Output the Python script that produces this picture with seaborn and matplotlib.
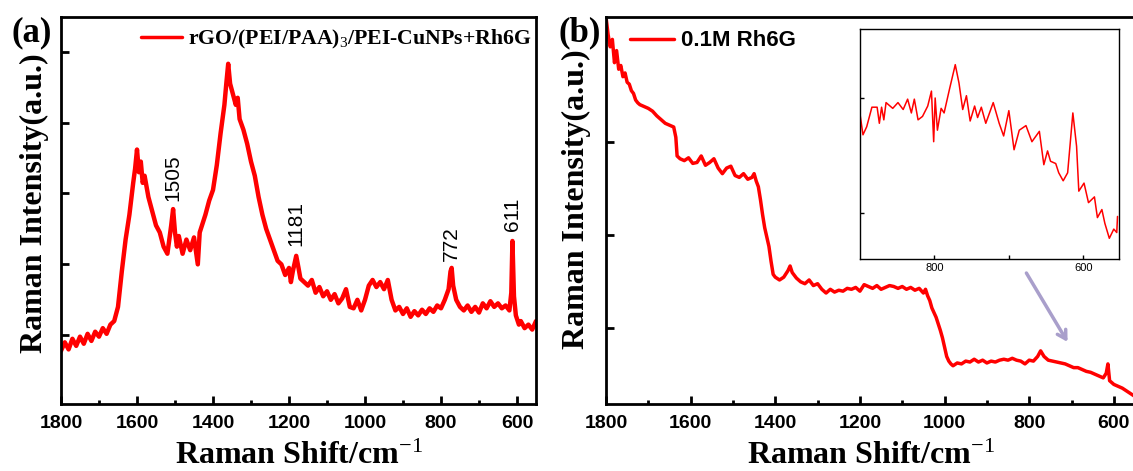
import seaborn as sns
import matplotlib.pyplot as plt
import pandas as pd

# panel (a): rGO/(PEI/PAA)3/PEI-CuNPs + Rh6G
shift_a = [1800, 1790, 1780, 1770, 1760, 1750, 1740, 1730, 1720, 1710, 1700, 1690, 1680, 1670, 1660,
           1650, 1640, 1630, 1620, 1610, 1605, 1600, 1595, 1590, 1585, 1580, 1570, 1560, 1550, 1540,
           1530, 1520, 1515, 1510, 1505, 1500, 1495, 1490, 1480, 1470, 1460, 1450, 1440, 1435, 1420,
           1410, 1400, 1390, 1380, 1370, 1365, 1360, 1355, 1350, 1340, 1335, 1330, 1320, 1310, 1300,
           1290, 1280, 1270, 1260, 1250, 1240, 1230, 1220, 1210, 1200, 1195, 1190, 1181, 1175, 1170,
           1160, 1150, 1140, 1130, 1120, 1110, 1100, 1090, 1080, 1070, 1060, 1050, 1040, 1030, 1020,
           1010, 1000, 990, 980, 970, 960, 950, 940, 930, 920, 910, 900, 890, 880, 870, 860, 850, 840,
           830, 820, 810, 800, 790, 780, 775, 772, 768, 760, 750, 740, 730, 720, 710, 700, 690, 680,
           670, 660, 650, 640, 630, 620, 615, 612, 608, 603, 595, 590, 580, 570, 560, 550]
inten_a = [0.78, 0.90, 0.80, 0.95, 0.85, 0.98, 0.88, 1.02, 0.92, 1.05, 0.98, 1.10, 1.02, 1.15, 1.20,
           1.40, 1.90, 2.35, 2.70, 3.15, 3.35, 3.62, 3.30, 3.45, 3.15, 3.25, 2.95, 2.75, 2.55, 2.45,
           2.25, 2.15, 2.35, 2.55, 2.78, 2.45, 2.25, 2.40, 2.15, 2.35, 2.20, 2.38, 2.00, 2.45, 2.70,
           2.90, 3.05, 3.40, 3.85, 4.25, 4.55, 4.83, 4.55, 4.45, 4.25, 4.35, 4.05, 3.90, 3.70, 3.45,
           3.25, 2.95, 2.70, 2.50, 2.35, 2.20, 2.05, 2.00, 1.85, 1.95, 1.75, 1.90, 2.12, 1.95, 1.80,
           1.75, 1.70, 1.78, 1.60, 1.68, 1.55, 1.62, 1.50, 1.58, 1.45, 1.52, 1.65, 1.40, 1.38, 1.50,
           1.35, 1.50, 1.70, 1.78, 1.68, 1.75, 1.65, 1.78, 1.50, 1.35, 1.40, 1.30, 1.38, 1.26, 1.34,
           1.28, 1.36, 1.30, 1.38, 1.33, 1.42, 1.38, 1.50, 1.65, 1.90, 1.95, 1.70, 1.50, 1.40, 1.35,
           1.42, 1.33, 1.40, 1.32, 1.45, 1.38, 1.48, 1.40, 1.45, 1.38, 1.42, 1.35, 1.60, 2.33, 1.55,
           1.28, 1.15, 1.20, 1.10, 1.15, 1.08, 1.20]
peaks_a = [1505, 1181, 772, 611]
peak_label_y = [2.89, 2.26, 2.05, 2.47]

# panel (b): 0.1M Rh6G
shift_b = [1800, 1795, 1790, 1785, 1780, 1775, 1770, 1765, 1760, 1755, 1750, 1745, 1740, 1735, 1730,
           1725, 1720, 1710, 1700, 1690, 1680, 1670, 1660, 1650, 1640, 1635, 1632, 1625, 1615, 1605,
           1595, 1585, 1575, 1565, 1555, 1545, 1535, 1525, 1515, 1505, 1495, 1485, 1475, 1465, 1455,
           1450, 1445, 1440, 1435, 1430, 1425, 1420, 1415, 1410, 1405, 1400, 1390, 1380, 1370, 1365,
           1360, 1350, 1340, 1330, 1320, 1310, 1300, 1290, 1280, 1270, 1260, 1250, 1240, 1230, 1220,
           1210, 1200, 1190, 1180, 1170, 1160, 1150, 1140, 1130, 1120, 1110, 1100, 1090, 1080, 1070,
           1060, 1050, 1045, 1040, 1035, 1030, 1020, 1010, 1005, 1000, 995, 990, 985, 980, 970, 960,
           950, 940, 930, 920, 910, 900, 890, 880, 870, 860, 850, 840, 830, 820, 810, 800, 790, 780,
           773, 765, 755, 745, 735, 725, 715, 705, 695, 685, 675, 665, 655, 645, 635, 625, 618, 614,
           610, 600, 590, 580, 570, 560, 550]
inten_b = [4.34, 4.15, 4.02, 4.10, 3.85, 3.98, 3.78, 3.82, 3.70, 3.74, 3.64, 3.62, 3.55, 3.52, 3.45,
           3.42, 3.40, 3.38, 3.36, 3.33, 3.28, 3.24, 3.20, 3.18, 3.16, 3.05, 2.85, 2.82, 2.80, 2.83,
           2.77, 2.78, 2.85, 2.75, 2.78, 2.82, 2.72, 2.66, 2.72, 2.74, 2.64, 2.62, 2.66, 2.60, 2.62,
           2.66, 2.58, 2.52, 2.38, 2.22, 2.08, 1.98, 1.88, 1.72, 1.58, 1.55, 1.52, 1.55, 1.62, 1.67,
           1.60, 1.54, 1.50, 1.48, 1.52, 1.46, 1.48, 1.42, 1.38, 1.42, 1.39, 1.41, 1.40, 1.43, 1.42,
           1.44, 1.40, 1.47, 1.45, 1.43, 1.46, 1.42, 1.44, 1.46, 1.45, 1.43, 1.45, 1.42, 1.44, 1.41,
           1.43, 1.38, 1.42, 1.35, 1.30, 1.22, 1.12, 0.98, 0.90, 0.80, 0.70, 0.65, 0.62, 0.60, 0.63, 0.62,
           0.65, 0.64, 0.67, 0.64, 0.66, 0.63, 0.65, 0.64, 0.66, 0.67, 0.66, 0.68, 0.66, 0.65, 0.62, 0.66,
           0.65, 0.70, 0.76, 0.70, 0.66, 0.65, 0.64, 0.63, 0.62, 0.60, 0.58, 0.58, 0.56, 0.54, 0.53, 0.51,
           0.49, 0.47, 0.52, 0.62, 0.44, 0.40, 0.38, 0.36, 0.33, 0.30, 0.27]

# inset: zoom of 900-550 region of panel (b)
shift_in = [900, 896, 891, 884, 877, 874, 871, 868, 865, 856, 849, 842, 836, 831, 827, 822, 816, 809,
            804, 801, 799, 796, 791, 787, 780, 772, 767, 762, 757, 752, 746, 742, 737, 731, 721, 713,
            707, 700, 693, 686, 677, 669, 659, 653, 648, 644, 637, 633, 627, 621, 614, 609, 606, 599,
            593, 585, 581, 575, 571, 565, 559, 555, 554]
inten_in = [1.86, 1.68, 1.75, 1.92, 1.92, 1.78, 1.92, 1.81, 1.96, 1.91, 1.96, 1.90, 1.99, 1.87, 1.99,
            1.81, 1.84, 1.93, 2.06, 1.62, 2.00, 1.72, 1.91, 1.87, 2.07, 2.29, 2.13, 1.90, 2.02, 1.80,
            1.93, 1.83, 1.92, 1.78, 1.96, 1.78, 1.67, 1.89, 1.55, 1.72, 1.76, 1.62, 1.71, 1.42, 1.54,
            1.45, 1.43, 1.35, 1.28, 1.35, 1.87, 1.58, 1.19, 1.26, 1.09, 1.14, 0.96, 1.03, 0.91, 0.78,
            0.86, 0.83, 0.97]

sns.set_style("ticks", {'axes.edgecolor': 'black', 'text.color': 'black',
                        'axes.labelcolor': 'black', 'xtick.color': 'black', 'ytick.color': 'black'})
plt.rcParams['font.family'] = ['Liberation Serif', 'DejaVu Serif']
plt.rcParams['mathtext.fontset'] = 'custom'
plt.rcParams['mathtext.rm'] = 'Liberation Serif'
plt.rcParams['mathtext.bf'] = 'Liberation Serif:bold'
plt.rcParams['mathtext.it'] = 'Liberation Serif:italic'

df_a = pd.DataFrame({'shift': shift_a, 'I': inten_a})
df_b = pd.DataFrame({'shift': shift_b, 'I': inten_b})
df_in = pd.DataFrame({'shift': shift_in, 'I': inten_in})

W, H = 1133, 471
fig = plt.figure(figsize=(W / 100, H / 100), dpi=100)
ax_a = fig.add_axes([61 / W, 1 - 404 / H, 475 / W, 387 / H])
ax_b = fig.add_axes([606 / W, 1 - 404 / H, 529 / W, 387 / H])
ax_in = fig.add_axes([860 / W, 1 - 259 / H, 259 / W, 230 / H])

sns.lineplot(data=df_a, x='shift', y='I', ax=ax_a, color='red', lw=3.2,
             label='rGO/(PEI/PAA)$_3$/PEI-CuNPs+Rh6G')
sns.lineplot(data=df_b, x='shift', y='I', ax=ax_b, color='red', lw=2.5, label='0.1M Rh6G')
sns.lineplot(data=df_in, x='shift', y='I', ax=ax_in, color='red', lw=1.1, legend=False)

tick_font = dict(family='Liberation Sans', weight='bold', size=14)
for ax in (ax_a, ax_b):
    ax.set_xlim(1800, 550)
    ax.set_xticks([1800, 1600, 1400, 1200, 1000, 800, 600])
    ax.set_xticks([1700, 1500, 1300, 1100, 900, 700], minor=True)
    ax.tick_params(axis='both', which='major', direction='in', length=6, width=2, pad=8)
    ax.tick_params(axis='x', which='minor', direction='in', length=3, width=2)
    for lbl in ax.get_xticklabels():
        lbl.set_fontproperties(tick_font)
    for s in ax.spines.values():
        s.set_linewidth(2)
    ax.set_xlabel('Raman Shift/cm$^{-1}$', fontsize=23, fontweight='bold', labelpad=7)
    ax.set_ylabel('Raman Intensity(a.u.)', fontsize=23, fontweight='bold')

ax_a.set_ylim(0.03, 5.49)
ax_a.set_yticks([1, 2, 3, 4, 5])
ax_a.set_yticklabels([])
ax_b.set_ylim(0.19, 4.34)
ax_b.set_yticks([1, 2, 3])
ax_b.set_yticklabels([])
ax_a.yaxis.set_label_coords(-0.026, 0.52)
ax_b.yaxis.set_label_coords(-0.029, 0.53)

for x, y in zip(peaks_a, peak_label_y):
    ax_a.text(x, y, str(x), rotation=90, ha='center', va='bottom',
              family='Liberation Sans', fontsize=15)

leg_a = ax_a.legend(loc='upper right', frameon=False, handlelength=1.9, handletextpad=0.25,
                    borderaxespad=0.1, bbox_to_anchor=(1.013, 1.0),
                    prop=dict(family='Liberation Serif', weight='bold', size=15.7))
leg_b = ax_b.legend(loc='upper left', frameon=False, handlelength=2.0, handletextpad=0.3,
                    borderaxespad=0.2, bbox_to_anchor=(0.02, 1.0),
                    prop=dict(family='Liberation Sans', weight='bold', size=16))
for leg in (leg_a, leg_b):
    for h in leg.get_lines():
        h.set_linewidth(2.5)

ax_b.annotate('', xy=(706, 0.83), xytext=(810, 1.62),
              arrowprops=dict(arrowstyle='->,head_length=0.6,head_width=0.35',
                              color='#a99fcb', lw=2.5))

ax_in.set_xlim(900, 552)
ax_in.set_ylim(0.6, 2.6)
ax_in.set_xticks([800, 700, 600])
ax_in.set_xticklabels(['800', '', '600'])
ax_in.set_yticks([1, 2])
ax_in.set_yticklabels([])
ax_in.set_xlabel('')
ax_in.set_ylabel('')
ax_in.tick_params(direction='in', length=3, width=1, pad=3, labelsize=8)
for lbl in ax_in.get_xticklabels():
    lbl.set_family('Liberation Sans')
for s in ax_in.spines.values():
    s.set_linewidth(1)

fig.text(32 / W, 1 - 33 / H, '(a)', fontsize=25, fontweight='bold', ha='center', va='center')
fig.text(580 / W, 1 - 33 / H, '(b)', fontsize=25, fontweight='bold', ha='center', va='center')

fig.savefig('out.png', dpi=100)
